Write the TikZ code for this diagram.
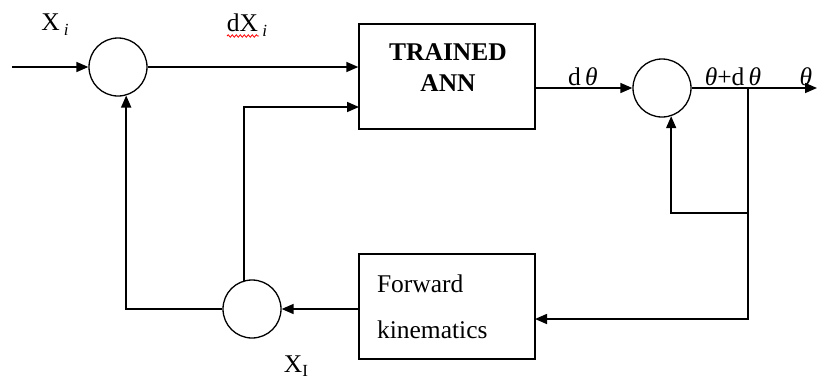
\documentclass[tikz,border=0pt]{standalone}
\usepackage{fontspec}
\setmainfont{Liberation Serif}
\usetikzlibrary{arrows.meta,decorations.pathmorphing}
\begin{document}
\begin{tikzpicture}[x=1pt,y=-1pt,
  line width=1.6pt,
  arr/.style={-{Triangle[length=12pt,width=10pt]}},
  sumnode/.style={circle,draw,line width=1.3pt,minimum size=58pt,inner sep=0pt},
  blockbox/.style={draw,line width=1.4pt,minimum width=176pt,minimum height=105pt,inner sep=0pt},
  lbl/.style={font=\fontsize{25.5}{28}\selectfont,inner sep=0pt}
]
\useasboundingbox (0,0) rectangle (817,384);
% nodes
\node[sumnode] (s1) at (118,67) {};
\node[sumnode] (s2) at (662,88) {};
\node[sumnode] (s3) at (252,309) {};
\node[blockbox] (ann) at (447,76.5) {};
\node[lbl,font=\fontsize{25.5}{31}\selectfont\bfseries,align=center] (anntxt) at (448,67.5) {TRAINED\\ANN};
\node[blockbox,text width=140pt,inner xsep=18pt,align=left,font=\fontsize{25.5}{46}\selectfont] (fk) at (447,306.5) {Forward\\kinematics};
% coordinates
\coordinate (in) at (12,67);
\coordinate (out) at (817,88);
\coordinate (j) at (748,88);
\coordinate (k) at (748,213);
\coordinate (annin2) at (359,107);
\coordinate (fkin) at (535,319);
% labels
\node[lbl] (xi) at (55,25) {X\,\raisebox{-5pt}{\fontsize{17}{17}\selectfont\itshape i}};
\node[lbl] (dxi) at (247,25) {dX\,\raisebox{-5pt}{\fontsize{17}{17}\selectfont\itshape i}};
\draw[red,line width=0.8pt,decorate,decoration={snake,amplitude=1.2pt,segment length=4pt}] (227,36) -- (259,36);
\node[lbl] (dth) at (583,77) {d\,{\itshape θ}};
\node[lbl] (thdth) at (733,77) {{\itshape θ}+d\,{\itshape θ}};
\node[lbl] (th) at (806,77) {{\itshape θ}};
\node[lbl] (xI) at (296,366) {X\raisebox{-4pt}{\fontsize{17}{17}\selectfont I}};
% connectors
\draw[arr] (in) -- (s1.west);
\draw[arr] (s1.east) -- (s1.east -| ann.west);
\draw[arr] (s3.106) |- (annin2);
\draw[arr] (ann.east |- s2.west) -- (s2.west);
\draw[arr] (s2.east) -- (out);
\draw[arr] (j) -- (k) -| (s2.-72);
\draw[arr] (j) |- (fkin);
\draw[arr] (fk.west |- s3.east) -- (s3.east);
\draw[arr] (s3.west) -| (s1.-74);
\end{tikzpicture}
\end{document}
